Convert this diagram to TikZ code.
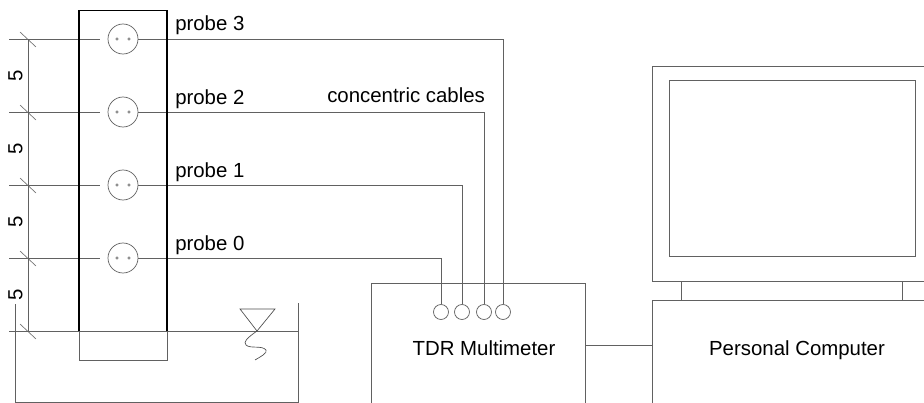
\documentclass[tikz,border=0pt]{standalone}
\usepackage{fontspec}
\setmainfont{Liberation Sans}
\begin{document}
\begin{tikzpicture}[x=0.75pt,y=-0.75pt,
  ln/.style={draw=black!62,line width=0.72pt},
  thick box/.style={draw=black,line width=1.4pt},
  hole/.style={circle,draw=black!60,line width=0.55pt,minimum size=22.5pt,inner sep=0pt},
  port/.style={circle,draw=black!60,line width=0.55pt,minimum size=11.25pt,inner sep=0pt},
  pin/.style={circle,draw=black!60,line width=0.4pt,minimum size=1.8pt,inner sep=0pt},
  lab/.style={font=\fontsize{15.3pt}{16pt}\selectfont,text=black,inner sep=0pt,anchor=base west},
  tick/.style={draw=black!55,line width=0.5pt}]
\useasboundingbox (0,0) rectangle (924,403);
% probes
\foreach \n/\y/\lbl in {3/39/probe 3,2/112/probe 2,1/185/probe 1,0/258/probe 0}{
  \node[hole] (h\n) at (123,\y) {};
  \node[pin] (pa\n) at (117,\y) {};
  \node[pin] (pb\n) at (129,\y) {};
  \coordinate (l\n) at (9,\y);
  \coordinate (s\n) at (100,\y);
  \draw[ln] (l\n) -- (s\n);
  \node[lab] at (175,\y-8) {\lbl};
  \draw[tick] (20,\y-7) -- (36,\y+8);
}
% ports
\node[port] (p0) at (441,312) {};
\node[port] (p1) at (462,312) {};
\node[port] (p2) at (484,312) {};
\node[port] (p3) at (503,312) {};
% cables
\foreach \n in {0,1,2,3}{\draw[ln] (h\n.east) -| (p\n.north);}
% dimension
\coordinate (w0) at (9,331);
\coordinate (w1) at (298,331);
\coordinate (d0) at (28,39);
\coordinate (d1) at (28,331);
\draw[ln] (d0) -- (d1);
\draw[tick] (20,324) -- (36,339);
\foreach \y in {76,149,222,295}{\node[font=\fontsize{15.3pt}{16pt}\selectfont,rotate=90,inner sep=0pt] at (15.5,\y) {5};}
% water & tank
\draw[ln] (w0) -- (w1);
\draw[ln] (15,304) -- (15,402) -- (298,402) -- (298,303);
% probe body
\draw[ln] (79,331) -- (79,360) -- (167,360) -- (167,331);
\draw[thick box] (79,331) -- (79,10.5) -- (167,10.5) -- (167,331);
% water symbol
\draw[line width=0.5pt,draw=black!70] (240,309) -- (275,309) -- (257,331) -- cycle;
\draw[line width=0.5pt,draw=black!70] (257,331) .. controls (247,338) and (243,342) .. (246,345) .. controls (250,349) and (262,345) .. (266,350) .. controls (268,353) and (260,357) .. (255,360);
% TDR
\draw[ln] (371.5,403) -- (371.5,283.5) -- (585,283.5) -- (585,403);
\node[lab,anchor=base] (tdr) at (484,355) {TDR Multimeter};
% PC
\draw[ln] (652.5,403) -- (652.5,300) -- (924,300);
\node[lab,anchor=base] (pc) at (797,355) {Personal Computer};
\coordinate (a) at (585,345);
\coordinate (b) at (652.5,345);
\draw[ln] (a) -- (b);
% monitor
\draw[ln] (924,66.5) -- (652.5,66.5) -- (652.5,281) -- (924,281);
\draw[ln] (669,80.5) rectangle (915.5,256.5);
\draw[ln] (681.5,281) -- (681.5,300);
\draw[ln] (902.5,281) -- (902.5,300);
\node[lab] (cc) at (327,103) {concentric cables};
\end{tikzpicture}
\end{document}
